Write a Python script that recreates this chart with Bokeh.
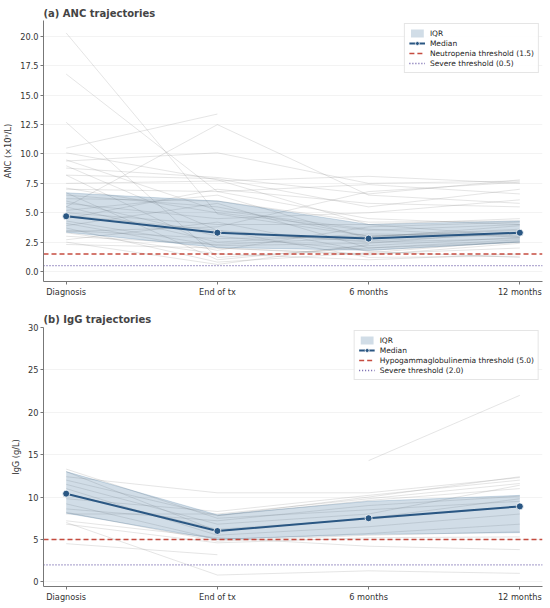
import math
from bokeh.plotting import figure
from bokeh.layouts import column
from bokeh.models import (FixedTicker, PrintfTickFormatter, Legend,
                          LegendItem, Range1d)
from bokeh.embed import file_html
from bokeh.resources import INLINE

N = math.nan
timepoints = ["Diagnosis", "End of tx", "6 months", "12 months"]
tpos = [0, 1, 2, 3]
XLIM = (-0.15, 3.15)

# ANC per-patient trajectories (x10^9/L)
anc_patients = [
    [20.3, 4.9, 3.0, 3.5], [16.8, 6.8, 4.5, 4.0], [12.7, 1.2, 2.0, 2.5],
    [10.5, 13.4, N, N], [5.5, 12.5, 6.5, 5.8], [9.4, 10.1, 7.5, 7.7],
    [10.1, 7.8, 4.0, 3.0], [9.0, 3.5, 2.5, 2.8], [8.8, 8.0, 6.6, 7.8],
    [8.2, 7.9, 5.5, 7.0], [8.2, 2.0, 1.5, 2.0], [7.5, 7.7, 8.1, 7.5],
    [7.1, 5.0, 3.5, 4.0], [7.0, 6.8, 7.4, 6.6], [6.7, 1.0, 2.2, 2.9],
    [6.5, 5.5, 3.0, 3.6], [6.2, 6.0, 4.2, 4.3], [6.0, 3.0, 1.8, 2.5],
    [5.8, 4.5, 5.0, 6.1], [5.5, 2.5, 3.2, 3.0], [5.2, 6.5, 2.8, 3.3],
    [5.0, 4.0, 4.0, 4.5], [4.8, 3.5, 1.2, 1.3], [4.7, 3.3, 2.6, 3.2],
    [4.5, 7.0, 5.8, 5.5], [4.3, 2.2, 2.4, 3.4], [4.1, 1.8, 3.8, 4.2],
    [3.9, 5.8, 2.0, 2.7], [3.7, 0.8, 1.6, 2.6], [3.5, 2.8, 3.0, 3.3],
    [3.4, 3.8, 6.8, 7.6], [3.3, 1.5, 1.0, 1.5], [3.0, 2.3, 2.9, 3.9],
    [2.7, 4.2, 1.7, 1.2], [2.5, 0.6, 2.3, N], [2.3, 2.0, 1.4, 2.4],
    [9.5, 5.2, 3.6, 2.9],
]
anc_median = [4.7, 3.3, 2.8, 3.3]
anc_q1 = [3.35, 2.05, 1.8, 2.5]
anc_q3 = [6.7, 6.0, 4.0, 4.3]
anc_thr = 1.5
anc_severe = 0.5

# IgG per-patient trajectories (g/L)
igg_patients = [
    [13.3, 7.5, 8.5, 9.5], [13.0, 6.0, 7.5, 9.8], [12.4, 10.5, 10.5, 12.3],
    [12.0, 7.8, 9.6, 11.0], [11.0, 5.5, 6.5, 8.0], [10.4, 6.2, 7.4, 8.9],
    [9.8, 8.3, 10.2, 12.0], [9.2, 5.0, 5.7, 6.8], [8.6, 7.2, 9.0, 10.1],
    [8.2, 4.8, 5.5, 5.9], [8.0, 8.0, 9.8, 11.6], [7.2, 5.2, 4.2, 3.8],
    [7.0, 0.8, 1.3, 1.0], [6.8, 4.6, 5.2, 5.3], [4.5, 3.2, N, N],
    [N, N, 14.3, 22.0], [N, 7.8, 10.0, 12.4], [11.5, 6.8, 8.0, 11.4],
]
igg_median = [10.4, 6.0, 7.5, 8.9]
igg_q1 = [8.1, 5.0, 5.6, 5.8]
igg_q3 = [13.0, 7.9, 9.5, 10.2]
igg_thr = 5.0
igg_severe = 2.0

FONT = "DejaVu Sans"
MED = "#2a5783"
BAND = "#2f6690"
RED = "#c0392b"
PURPLE = "#5b4a9e"


def panel(title, ylabel, patients, med, q1, q3, thr, sev, thr_label,
          sev_label, yrange, ticks, fmt, height, top, bottom, standoff):
    p = figure(width=548, height=height, output_backend="svg",
               toolbar_location=None, x_range=Range1d(*XLIM),
               y_range=Range1d(*yrange), min_border_left=42,
               min_border_right=6, min_border_top=top,
               min_border_bottom=bottom)
    p.outline_line_color = None
    p.title.text = title
    p.title.text_font = FONT
    p.title.text_font_size = "10px"
    p.title.text_font_style = "bold"
    p.title.standoff = standoff
    p.title.offset = 0
    p.xgrid.grid_line_color = None
    p.ygrid.grid_line_color = "#eeeeee"
    p.ygrid.grid_line_width = 0.7
    p.ygrid.ticker = FixedTicker(ticks=ticks)

    for pt in patients:
        p.line(tpos, pt, line_color="gray", line_alpha=0.3, line_width=0.7)

    band = p.varea(x=tpos, y1=q1, y2=q3, fill_color=BAND, fill_alpha=0.22)
    p.line(tpos, q1, line_color=BAND, line_alpha=0.25, line_width=0.8)
    p.line(tpos, q3, line_color=BAND, line_alpha=0.25, line_width=0.8)

    thr_r = p.line(list(XLIM), [thr, thr], line_color=RED, line_dash="5 3",
                   line_width=1.5, line_alpha=0.9)
    sev_r = p.line(list(XLIM), [sev, sev], line_color=PURPLE,
                   line_dash="1 2", line_width=1.3, line_alpha=0.9)

    ml = p.line(tpos, med, line_color=MED, line_width=2)
    ms = p.scatter(tpos, med, size=7, fill_color=MED, line_color="white",
                   line_width=0.8)

    legend = Legend(items=[
        LegendItem(label="IQR", renderers=[band]),
        LegendItem(label="Median", renderers=[ml, ms]),
        LegendItem(label=thr_label, renderers=[thr_r]),
        LegendItem(label=sev_label, renderers=[sev_r]),
    ], location="top_right")
    legend.label_text_font = FONT
    legend.label_text_font_size = "7.5px"
    legend.label_text_color = "#222222"
    legend.label_height = 10
    legend.glyph_height = 10
    legend.glyph_width = 16
    legend.spacing = 0
    legend.padding = 4
    legend.margin = 3
    legend.label_standoff = 5
    legend.border_line_color = "#cccccc"
    legend.border_line_width = 0.8
    legend.background_fill_alpha = 0.85
    p.add_layout(legend)

    for ax in (p.xaxis[0], p.yaxis[0]):
        ax.axis_line_color = "#777777"
        ax.major_tick_line_color = "#777777"
        ax.major_tick_out = 3
        ax.major_tick_in = 0
        ax.minor_tick_line_color = None
        ax.major_label_text_font = FONT
        ax.major_label_text_font_size = "8.2px"
        ax.major_label_text_color = "#333333"
        ax.major_label_standoff = 2
        ax.axis_label_text_font = FONT
        ax.axis_label_text_font_size = "8.2px"
        ax.axis_label_text_font_style = "normal"
        ax.axis_label_text_color = "#333333"
    p.xaxis.ticker = FixedTicker(ticks=tpos)
    p.xaxis.major_label_overrides = {i: t for i, t in zip(tpos, timepoints)}
    p.yaxis.ticker = FixedTicker(ticks=ticks)
    p.yaxis.formatter = PrintfTickFormatter(format=fmt)
    p.yaxis.axis_label = ylabel
    p.yaxis.axis_label_standoff = 4
    return p


pa = panel("(a) ANC trajectories", "ANC (×10⁹/L)", anc_patients, anc_median,
           anc_q1, anc_q3, anc_thr, anc_severe,
           "Neutropenia threshold (1.5)", "Severe threshold (0.5)",
           (-0.85, 21.36), [0, 2.5, 5, 7.5, 10, 12.5, 15, 17.5, 20], "%.1f",
           300, 20, 19, 4)
pb = panel("(b) IgG trajectories", "IgG (g/L)", igg_patients, igg_median,
           igg_q1, igg_q3, igg_thr, igg_severe,
           "Hypogammaglobulinemia threshold (5.0)", "Severe threshold (2.0)",
           (-0.55, 30.0), [0, 5, 10, 15, 20, 25, 30], "%d",
           304, 27, 17, 5)

layout = column(pa, pb)
open("out.html", "w").write(file_html(layout, INLINE))
